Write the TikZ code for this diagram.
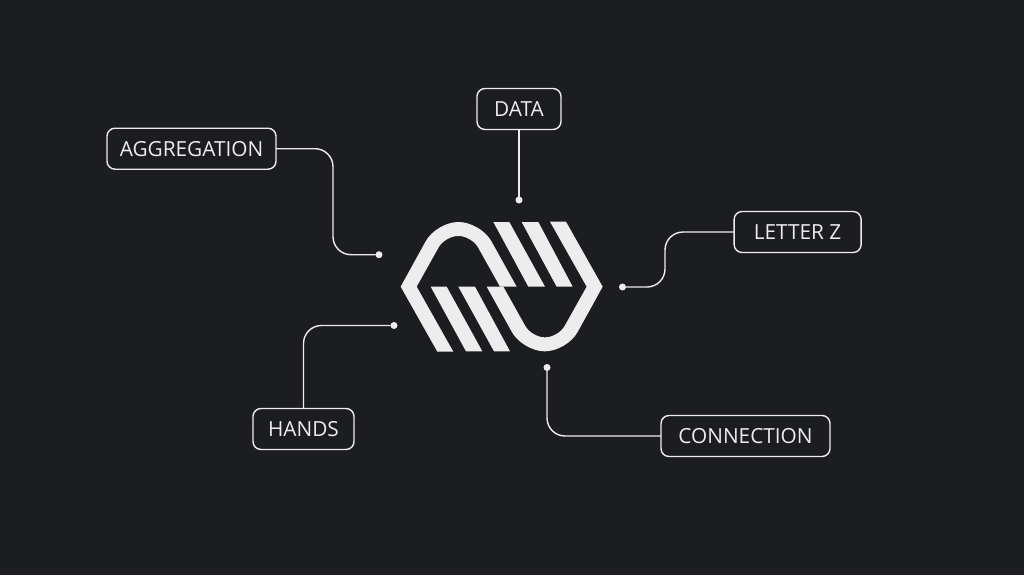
\documentclass[tikz,border=0pt]{standalone}
\usepackage{fontspec}
\setmainfont{Open Sans}
\definecolor{bgc}{HTML}{1C1D21}
\definecolor{fgc}{HTML}{EDEDED}
\tikzset{
  lbl/.style={draw=fgc,line width=1.4pt,fill=bgc,text=fgc,rounded corners=8pt,inner sep=0pt,outer sep=0pt,minimum height=41pt,font=\fontsize{20.8}{24}\selectfont},
  dotnode/.style={circle,fill=fgc,minimum size=7pt,inner sep=0pt,outer sep=0pt},
  link/.style={draw=fgc,line width=1.4pt,rounded corners=18pt}
}
\begin{document}
\begin{tikzpicture}[x=1pt,y=-1pt]
\useasboundingbox (0,0) rectangle (1024,575);
\fill[bgc] (0,0) rectangle (1024,575);
% logo
\begin{scope}[shift={(390,210)},x=0.3333pt,y=-0.3333pt]
\fill[fgc] (142,425) -- (32,230)
  [rounded corners=22pt] -- (139,36) -- (272,36) [sharp corners] -- (380,230) -- (330,230)
  [rounded corners=13pt] -- (245,78) -- (165,78) [sharp corners] -- (80,230) -- (190,425) -- cycle;
\fill[fgc] (528,35) -- (638,230)
  [rounded corners=22pt] -- (531,424) -- (398,424) [sharp corners] -- (290,230) -- (340,230)
  [rounded corners=13pt] -- (425,382) -- (505,382) [sharp corners] -- (590,230) -- (480,35) -- cycle;
\fill[fgc] (310,36) -- (358,36) -- (465,230) -- (415,230) -- cycle;
\fill[fgc] (395,36) -- (445,36) -- (548,230) -- (500,230) -- cycle;
\fill[fgc] (122,230) -- (170,230) -- (277,424) -- (228,424) -- cycle;
\fill[fgc] (205,230) -- (255,230) -- (360,424) -- (312,424) -- cycle;
\end{scope}
% labels
\node[lbl,minimum width=169pt] (agg) at (191.5,148.7) {AGGREGATION};
\node[lbl,minimum width=84pt] (data) at (519,109) {DATA};
\node[lbl,minimum width=127pt] (letz) at (797.6,232) {LETTER Z};
\node[lbl,minimum width=101pt] (hands) at (303.5,429) {HANDS};
\node[lbl,minimum width=169pt] (conn) at (745.5,436) {CONNECTION};
% end dots
\node[dotnode] (dagg) at (379,254.7) {};
\node[dotnode] (ddata) at (519,200) {};
\node[dotnode] (dletz) at (622.5,287) {};
\node[dotnode] (dhands) at (394,325.5) {};
\node[dotnode] (dconn) at (547,367.5) {};
% bend helpers
\coordinate (agga) at (333,148.7);
\coordinate (aggb) at (333,254.7);
\coordinate (leta) at (665,232);
\coordinate (letb) at (665,287);
% connectors
\draw[link] (agg.east) -- (agga) -- (aggb) -- (dagg);
\draw[link] (data.south) -- (ddata);
\draw[link] (letz.west) -- (leta) -- (letb) -- (dletz);
\draw[link] (hands.north) |- (dhands);
\draw[link] (conn.west) -| (dconn);
\end{tikzpicture}
\end{document}
